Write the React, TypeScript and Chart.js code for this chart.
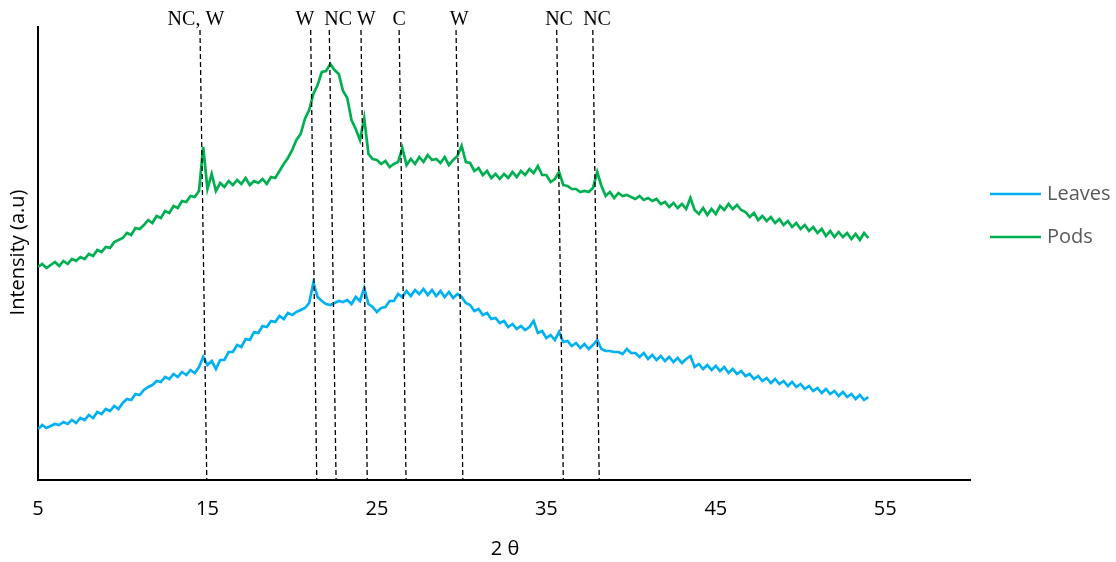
import React, { useEffect, useRef } from "react";
import { Chart, registerables } from "chart.js";

Chart.register(...registerables);

// 2θ sampling grid (degrees), 0.25° step from 5 to 54
const angleStart = 5;
const angleStep = 0.25;

const podsIntensity = [
  213, 216, 212, 215, 218, 214, 219, 216, 221, 219, 223, 221, 226, 224, 230, 228, 233, 232, 238, 240,
  242, 247, 245, 252, 251, 255, 260, 257, 264, 262, 269, 267, 274, 272, 279, 278, 284, 283, 289, 333,
  291, 306, 289, 297, 293, 299, 295, 300, 296, 302, 295, 299, 297, 301, 296, 303, 302, 309, 316, 322,
  330, 340, 346, 361, 370, 386, 395, 408, 409, 416, 410, 406, 389, 382, 360, 351, 340, 362, 326, 321,
  320, 316, 319, 313, 316, 318, 332, 315, 321, 316, 323, 318, 325, 320, 321, 317, 323, 315, 320, 324,
  334, 318, 317, 309, 312, 305, 309, 302, 306, 301, 306, 302, 308, 303, 309, 305, 311, 307, 314, 305,
  305, 298, 301, 308, 295, 294, 291, 291, 288, 289, 288, 292, 308, 294, 284, 288, 282, 287, 284, 285,
  283, 281, 284, 280, 282, 279, 281, 276, 278, 273, 277, 272, 276, 271, 282, 270, 266, 272, 265, 271,
  266, 274, 270, 276, 271, 275, 270, 268, 263, 267, 260, 264, 259, 263, 257, 261, 255, 259, 253, 257,
  251, 255, 249, 253, 247, 251, 244, 249, 243, 248, 243, 247, 241, 246, 240, 247, 242,
];

const leavesIntensity = [
  51, 55, 52, 54, 56, 55, 58, 56, 60, 57, 62, 60, 65, 62, 68, 66, 71, 69, 74, 71,
  77, 81, 80, 86, 85, 90, 93, 95, 99, 98, 103, 101, 106, 103, 108, 105, 110, 107, 113, 123,
  115, 119, 111, 120, 120, 128, 128, 135, 133, 141, 140, 148, 147, 154, 153, 159, 158, 164, 161, 167,
  165, 168, 170, 172, 177, 197, 183, 179, 176, 175, 177, 179, 178, 180, 176, 183, 179, 192, 176, 173,
  168, 172, 173, 179, 179, 186, 183, 189, 184, 190, 186, 191, 185, 190, 184, 189, 183, 188, 182, 186,
  183, 177, 175, 169, 171, 165, 167, 161, 162, 157, 159, 153, 156, 151, 154, 150, 153, 159, 147, 149,
  142, 145, 140, 148, 138, 139, 134, 137, 132, 136, 131, 135, 140, 131, 129, 129, 128, 128, 126, 131,
  127, 127, 123, 127, 121, 125, 120, 124, 119, 123, 118, 122, 117, 121, 124, 113, 116, 111, 115, 110,
  114, 109, 113, 107, 111, 106, 109, 104, 106, 101, 104, 99, 102, 97, 101, 96, 99, 94, 98, 93,
  96, 91, 94, 89, 92, 87, 91, 86, 89, 84, 88, 83, 86, 81, 85, 80, 83,
];

const seriesNames = ["Leaves", "Pods"];
const seriesColors = ["#00B0F0", "#00B050"];

const xTicks = [5, 15, 25, 35, 45, 55];
const xMin = 5;
const xMax = 60;
const yMin = 0;
const yMax = 453;

const peakLabels = ["NC, W", "W", "NC", "W", "C", "W", "NC", "NC"];
const peakLabelX = [14.32, 20.76, 22.71, 24.36, 26.31, 29.85, 35.75, 37.99];
const peakTopX = [14.56, 21.09, 22.19, 24.06, 26.31, 29.67, 35.61, 37.74];
const peakBottomX = [14.96, 21.45, 22.59, 24.43, 26.72, 30.07, 36.0, 38.12];
const peakTopY = 450;
const peakLabelY = 460;

const toPoints = (vals: number[]) =>
  vals.map((v, i) => ({ x: angleStart + i * angleStep, y: v }));

const SANS = "'Open Sans', 'Noto Sans', sans-serif";
const SERIF = "'Liberation Serif', 'DejaVu Serif', serif";

const overlayPlugin = {
  id: "overlay",
  afterDatasetsDraw(chart: any) {
    const { ctx, chartArea, scales } = chart;
    const xs = scales.x;
    const ys = scales.y;
    ctx.save();
    // peak labels
    ctx.font = `20px ${SERIF}`;
    ctx.fillStyle = "#000";
    ctx.textAlign = "center";
    ctx.textBaseline = "middle";
    peakLabels.forEach((t, i) => {
      ctx.fillText(t, xs.getPixelForValue(peakLabelX[i]), ys.getPixelForValue(peakLabelY));
    });
    // axis titles
    ctx.font = `20px ${SANS}`;
    ctx.fillStyle = "#000";
    ctx.fillText("2 θ", (chartArea.left + chartArea.right) / 2 + 1, 549);
    ctx.save();
    ctx.translate(18, (chartArea.top + chartArea.bottom) / 2 - 1);
    ctx.rotate(-Math.PI / 2);
    ctx.fillText("Intensity (a.u)", 0, 0);
    ctx.restore();
    // legend
    ctx.textAlign = "left";
    ctx.fillStyle = "#595959";
    const legendY = [194, 237];
    seriesNames.forEach((n, i) => {
      ctx.strokeStyle = seriesColors[i];
      ctx.lineWidth = 2.5;
      ctx.beginPath();
      ctx.moveTo(990, legendY[i]);
      ctx.lineTo(1041, legendY[i]);
      ctx.stroke();
      ctx.fillText(n, 1047, legendY[i]);
    });
    ctx.restore();
  },
};

export default function App() {
  const ref = useRef<HTMLCanvasElement | null>(null);
  useEffect(() => {
    if (!ref.current) return;
    const peakSets = peakLabels.map((t, i) => ({
      label: t,
      data: [
        { x: peakTopX[i], y: peakTopY },
        { x: peakBottomX[i], y: yMin },
      ],
      borderColor: "#000",
      borderWidth: 1.3,
      borderDash: [5, 3],
      pointRadius: 0,
      fill: false,
      order: 0,
    }));
    const chart = new Chart(ref.current, {
      type: "line",
      data: {
        datasets: [
          {
            label: seriesNames[0],
            data: toPoints(leavesIntensity),
            borderColor: seriesColors[0],
            borderWidth: 2.7,
            pointRadius: 0,
            tension: 0,
            order: 2,
          },
          {
            label: seriesNames[1],
            data: toPoints(podsIntensity),
            borderColor: seriesColors[1],
            borderWidth: 2.7,
            pointRadius: 0,
            tension: 0,
            order: 2,
          },
          ...peakSets,
        ] as any,
      },
      options: {
        responsive: false,
        animation: false,
        devicePixelRatio: 1,
        layout: { padding: { left: 0, right: 146, top: 27, bottom: 0 } },
        plugins: { legend: { display: false }, tooltip: { enabled: false } },
        scales: {
          x: {
            type: "linear",
            min: xMin,
            max: xMax,
            grid: { display: false, drawTicks: false },
            border: { display: true, color: "#000", width: 2 },
            afterBuildTicks: (s: any) => {
              s.ticks = xTicks.map((v) => ({ value: v }));
            },
            afterFit: (s: any) => {
              s.height = 82;
            },
            ticks: {
              padding: 17,
              color: "#000",
              font: { family: SANS, size: 20 },
              maxRotation: 0,
            },
          },
          y: {
            type: "linear",
            min: yMin,
            max: yMax,
            grid: { display: false, drawTicks: false },
            border: { display: true, color: "#000", width: 2 },
            ticks: { display: false },
            afterFit: (s: any) => {
              s.width = 38;
            },
          },
        },
      } as any,
      plugins: [overlayPlugin],
    });
    return () => chart.destroy();
  }, []);
  return (
    <div style={{ position: "absolute", left: 0, top: 0, width: 1116, height: 562, background: "#fff" }}>
      <canvas ref={ref} width={1116} height={562} />
    </div>
  );
}
